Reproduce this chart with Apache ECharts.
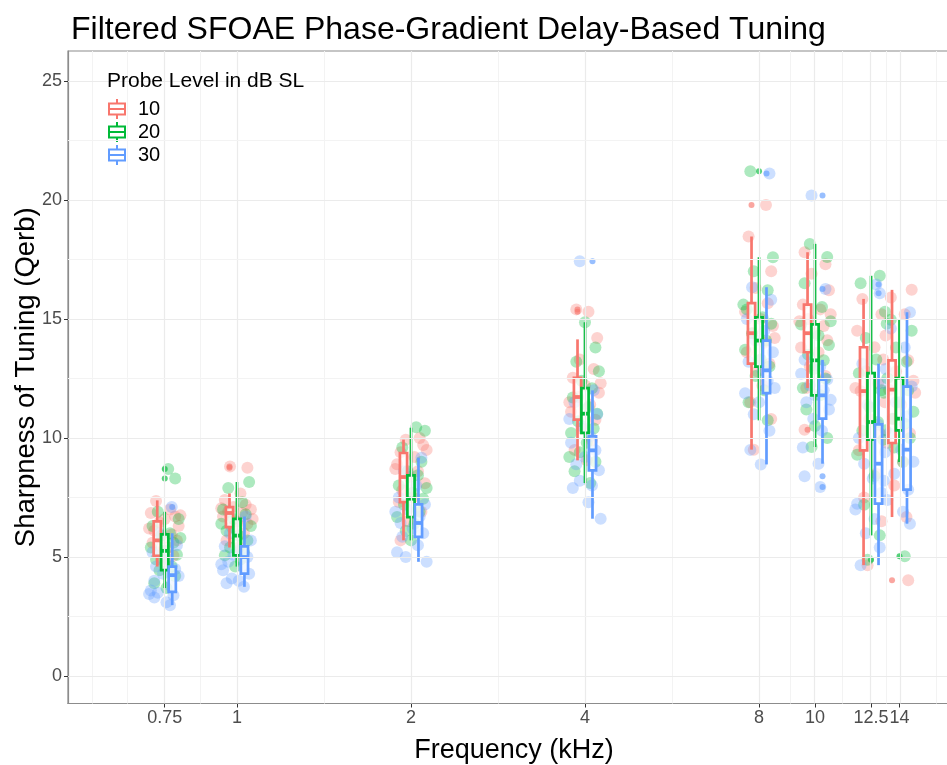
<!DOCTYPE html>
<html>
<head>
<meta charset="utf-8">
<script src="https://cdn.jsdelivr.net/npm/echarts@6/dist/echarts.min.js"></script>
<style>html,body{margin:0;padding:0;background:#fff}#c{width:947px;height:765px}</style>
</head>
<body>
<div id="c"></div>
<script>
// ---------------- data ----------------
const freqs = [0.75, 1, 2, 4, 8, 10, 12.5, 14];
const xTickLabels = ['0.75', '1', '2', '4', '8', '10', '12.5', '14'];
const xMinorFreqs = [0.561, 0.648, 0.866, 1.414, 2.83, 5.66, 9.05, 11.18, 13.27, 16.26];
const yTicks = [0, 5, 10, 15, 20, 25];
const yMinor = [2.5, 7.5, 12.5, 17.5, 22.5];
const levels = ['10', '20', '30'];

// box stats per frequency: [lower whisker, Q1, median, Q3, upper whisker]
const box10 = [[4.6,5.05,5.7,6.5,7.38],[5.4,6.26,6.85,7.1,7.67],[5.7,7.31,8.36,9.37,9.93],[9.06,10.77,11.72,12.53,14.14],
  [9.51,13.12,14.4,15.66,18.46],[12.1,13.6,14.4,15.6,17.8],[4.66,9.48,11.97,13.81,15.84],[6.68,9.79,12.03,13.26,16.22]];
const box20 = [[3.7,4.45,5.26,5.95,6.9],[4.6,5.07,5.9,6.6,8.15],[5.7,6.68,7.45,8.43,10.43],[8.11,10.21,11.02,12.09,14.86],
  [10.74,13.0,14.09,15.07,17.59],[9.62,11.79,13.26,14.77,18.15],[5.91,9.93,10.67,12.72,16.81],[8.99,10.32,10.81,12.51,14.96]];
const box30 = [[2.98,3.54,4.24,4.6,6.0],[3.75,4.3,5.0,5.45,6.7],[4.8,5.85,6.43,7.21,9.17],[6.61,8.64,9.48,10.07,12.0],
  [8.89,11.88,12.84,14.09,16.33],[8.92,10.81,11.79,12.45,13.28],[4.66,7.24,8.92,10.57,13.12],[6.4,7.83,9.51,12.16,15.28]];

// outliers: [frequency index, value]
const out10 = [[1,8.8],[1,8.75],[3,15.4],[3,15.3],[4,19.78],[5,10.35],[7,4.03]];
const out20 = [[0,8.7],[0,8.3],[4,21.2],[6,4.89],[7,5.03]];
const out30 = [[0,7.1],[3,17.42],[4,21.11],[5,20.18],[5,16.26],[5,8.39],[5,7.94],[6,16.44],[6,16.08]];

// individual (jittered) observations per frequency: [jitter in octaves, value]
const pts10 = [
  [[-0.05,7.35],[0.03,7.0],[-0.08,6.85],[0.06,6.7],[0.0,6.6],[-0.03,6.45],[0.08,6.3],[-0.06,6.1],[0.04,5.95],[-0.01,5.8],[0.07,5.7],[-0.07,5.6],[0.02,5.4],[-0.04,5.2],[0.05,5.05],[-0.02,4.9],[0.01,4.7],[-0.09,6.2],[0.09,6.75]],
  [[-0.04,8.8],[0.06,8.75],[0.02,7.67],[-0.07,7.4],[0.05,7.2],[-0.02,7.1],[0.08,7.0],[-0.05,6.9],[0.03,6.85],[-0.08,6.7],[0.0,6.5],[0.06,6.4],[-0.03,6.26],[0.04,6.0],[-0.06,5.7],[0.01,5.4],[-0.09,7.05],[0.09,6.6]],
  [[0.05,10.0],[-0.03,9.93],[0.07,9.7],[-0.06,9.4],[0.02,9.2],[-0.08,8.9],[0.04,8.6],[-0.01,8.36],[0.08,8.1],[-0.05,7.8],[0.01,7.5],[-0.07,7.31],[0.06,6.9],[-0.02,6.5],[-0.06,5.7],[0.09,9.5],[-0.09,8.7]],
  [[-0.05,15.4],[0.02,15.3],[0.07,14.2],[-0.03,13.3],[0.05,12.9],[-0.07,12.53],[0.0,12.2],[0.08,11.9],[-0.04,11.72],[0.03,11.4],[-0.08,11.1],[0.06,10.77],[-0.02,10.4],[0.04,9.9],[-0.06,9.5],[0.01,9.06],[0.09,12.3],[-0.09,11.5]],
  [[0.04,19.78],[-0.06,18.46],[0.07,17.0],[-0.02,16.3],[0.05,15.66],[-0.08,15.3],[0.01,15.0],[0.08,14.7],[-0.04,14.4],[0.03,14.0],[-0.07,13.6],[0.06,13.12],[-0.01,12.8],[0.02,12.2],[-0.05,11.5],[0.07,10.8],[-0.03,9.51],[0.09,14.2]],
  [[-0.06,17.8],[0.06,17.3],[-0.02,16.9],[0.08,16.2],[-0.07,15.6],[0.03,15.4],[-0.04,15.0],[0.05,14.7],[0.0,14.4],[0.07,14.1],[-0.08,13.8],[0.02,13.6],[-0.03,13.0],[0.06,12.6],[-0.05,12.1],[-0.06,10.35],[0.09,15.2],[-0.09,14.9]],
  [[-0.05,15.84],[0.06,15.2],[-0.08,14.5],[0.02,13.81],[0.07,13.3],[-0.03,12.8],[0.04,12.3],[-0.06,11.97],[0.08,11.5],[-0.01,10.8],[0.05,10.2],[-0.07,9.48],[0.03,8.5],[-0.04,7.5],[0.06,6.5],[-0.02,4.66],[-0.09,12.1]],
  [[0.07,16.22],[-0.05,15.9],[0.03,15.2],[-0.08,14.3],[0.05,13.26],[-0.02,12.8],[0.08,12.4],[-0.06,12.03],[0.01,11.4],[-0.04,10.8],[0.06,10.2],[-0.07,9.79],[0.02,9.0],[-0.03,8.0],[0.04,6.68],[0.05,4.03],[0.09,11.9]]
];
const pts20 = [
  [[0.02,8.7],[0.06,8.3],[-0.04,6.9],[0.08,6.6],[-0.07,6.3],[0.03,6.0],[-0.02,5.9],[0.05,5.6],[-0.08,5.4],[0.0,5.26],[0.07,5.1],[-0.05,4.9],[0.04,4.6],[-0.03,4.45],[0.06,4.2],[-0.06,3.9],[0.01,3.7],[0.09,5.8]],
  [[0.07,8.15],[-0.05,7.9],[0.03,7.3],[-0.08,7.0],[0.05,6.8],[-0.02,6.6],[0.08,6.3],[-0.06,6.1],[0.01,5.9],[0.06,5.7],[-0.04,5.4],[0.04,5.2],[-0.07,5.07],[0.02,4.9],[-0.01,4.6],[-0.09,6.4]],
  [[0.03,10.45],[0.08,10.3],[-0.05,9.6],[0.06,9.0],[-0.02,8.6],[0.04,8.43],[-0.07,8.0],[0.01,7.7],[0.07,7.45],[-0.04,7.2],[0.05,6.9],[-0.08,6.68],[0.02,6.4],[-0.03,6.1],[0.0,5.7],[0.09,7.9]],
  [[0.0,14.86],[0.06,13.8],[-0.05,13.2],[0.08,12.8],[-0.02,12.4],[0.04,12.09],[-0.07,11.7],[0.02,11.3],[0.07,11.02],[-0.04,10.7],[0.05,10.4],[-0.08,10.21],[0.01,9.8],[-0.03,9.4],[0.06,9.0],[-0.06,8.6],[0.03,8.11],[-0.09,9.2]],
  [[-0.05,21.2],[0.08,17.59],[-0.03,17.0],[0.05,16.2],[-0.07,15.4],[0.02,15.07],[0.07,14.8],[-0.04,14.4],[0.04,14.09],[-0.08,13.7],[0.01,13.3],[0.06,13.0],[-0.02,12.6],[0.03,12.0],[-0.06,11.5],[0.05,10.74],[-0.09,15.6]],
  [[-0.03,18.15],[0.07,17.6],[-0.06,16.5],[0.04,15.5],[-0.08,14.77],[0.02,14.3],[0.08,13.9],[-0.04,13.5],[0.05,13.26],[-0.01,12.9],[0.06,12.5],[-0.07,12.1],[0.03,11.79],[-0.05,11.2],[0.0,10.5],[0.07,10.0],[-0.02,9.62],[0.09,14.9]],
  [[0.05,16.81],[-0.06,16.5],[0.08,15.3],[-0.03,14.2],[0.03,13.3],[-0.07,12.72],[0.06,12.0],[-0.01,11.3],[0.04,10.67],[-0.05,10.3],[0.07,9.93],[-0.08,9.3],[0.02,8.4],[-0.04,7.2],[0.05,5.91],[-0.02,4.89],[0.09,14.8]],
  [[-0.05,14.96],[0.07,14.5],[-0.02,13.8],[0.04,13.2],[-0.07,12.51],[0.05,12.0],[0.0,11.5],[0.08,11.1],[-0.04,10.81],[0.03,10.6],[-0.08,10.32],[0.06,10.0],[-0.03,9.6],[0.02,8.99],[0.03,5.03],[-0.09,11.9]]
];
const pts30 = [
  [[0.04,7.1],[-0.03,6.0],[0.07,5.5],[-0.07,5.2],[0.02,4.9],[-0.05,4.6],[0.06,4.5],[-0.01,4.3],[0.08,4.2],[-0.06,4.0],[0.03,3.8],[-0.08,3.6],[-0.04,3.5],[0.05,3.4],[-0.06,3.3],[0.01,3.1],[0.03,2.98],[-0.09,3.45]],
  [[0.05,6.7],[-0.04,6.0],[0.08,5.7],[-0.07,5.45],[0.02,5.3],[-0.02,5.1],[0.06,5.0],[-0.05,4.8],[0.03,4.6],[-0.08,4.45],[0.07,4.3],[-0.03,4.1],[0.01,4.0],[-0.06,3.9],[0.04,3.75],[-0.09,4.7]],
  [[0.06,9.17],[-0.04,8.6],[0.03,8.0],[-0.07,7.5],[0.08,7.21],[-0.02,7.0],[0.05,6.7],[-0.06,6.43],[0.01,6.2],[0.07,6.0],[-0.05,5.85],[0.04,5.5],[-0.08,5.2],[-0.03,5.0],[0.09,4.8],[-0.09,6.9]],
  [[-0.03,17.42],[0.05,12.0],[-0.06,11.5],[0.07,11.0],[-0.02,10.5],[0.03,10.07],[-0.08,9.8],[0.06,9.48],[0.0,9.2],[-0.05,8.9],[0.08,8.64],[-0.03,8.2],[0.04,8.0],[-0.07,7.9],[0.02,7.3],[0.09,6.61],[-0.09,10.8]],
  [[0.06,21.11],[-0.04,16.33],[0.07,15.8],[-0.07,15.0],[0.03,14.5],[-0.02,14.09],[0.08,13.6],[-0.06,13.2],[0.02,12.84],[0.05,12.4],[-0.08,11.88],[0.0,11.5],[-0.03,11.0],[0.06,10.3],[-0.05,9.5],[0.01,8.89],[0.09,12.1]],
  [[-0.02,20.18],[0.06,16.26],[-0.06,13.28],[0.03,13.0],[-0.08,12.7],[0.07,12.45],[-0.03,12.2],[0.05,12.0],[0.0,11.79],[-0.05,11.5],[0.08,11.2],[-0.01,10.81],[0.04,10.3],[-0.07,9.6],[0.02,8.92],[-0.06,8.39],[0.03,7.94],[0.09,11.6]],
  [[0.03,16.44],[0.05,16.08],[-0.05,13.12],[0.07,12.3],[-0.02,11.4],[0.04,10.57],[-0.07,10.0],[0.08,9.4],[-0.04,8.92],[0.01,8.3],[0.06,7.7],[-0.08,7.24],[0.02,6.6],[-0.03,6.0],[0.05,5.4],[-0.06,4.66],[-0.09,7.0]],
  [[0.06,15.28],[-0.05,14.6],[0.03,13.8],[-0.08,12.9],[0.07,12.16],[-0.02,11.5],[0.04,10.9],[-0.06,10.2],[0.01,9.51],[0.08,9.0],[-0.03,8.5],[0.05,7.83],[-0.07,7.4],[0.02,6.9],[0.06,6.4],[-0.09,8.2]]
];

// ---------------- build ----------------
const colors = ['#F8766D', '#00BA38', '#619CFF'];
const dodge = [-0.043, 0, 0.043];
const boxes = [box10, box20, box30];
const outs = [out10, out20, out30];
const pts = [pts10, pts20, pts30];
const lx = f => Math.log2(f);
const FONT = '"Liberation Sans", Arial, Helvetica, sans-serif';

const legendIcon = 'path://M8,0h2v3.5h-2z M0,3.5h18v2h-18z M0,14.5h18v2h-18z M0,5.5h2v9h-2z M16,5.5h2v9h-2z M0,9h18v2h-18z M8,16.5h2v3.5h-2z';

function renderBox(color) {
  return function (params, api) {
    const x = api.value(0);
    const lo = api.coord([x, api.value(1)]);
    const q1 = api.coord([x, api.value(2)]);
    const md = api.coord([x, api.value(3)]);
    const q3 = api.coord([x, api.value(4)]);
    const hi = api.coord([x, api.value(5)]);
    const cx = lo[0], hw = 3.6, lw = 2.7;
    return {
      type: 'group',
      children: [
        {type: 'line', shape: {x1: cx, y1: hi[1], x2: cx, y2: q3[1]}, style: {stroke: color, lineWidth: lw}},
        {type: 'line', shape: {x1: cx, y1: q1[1], x2: cx, y2: lo[1]}, style: {stroke: color, lineWidth: lw}},
        {type: 'rect', shape: {x: cx - hw, y: q3[1], width: 2 * hw, height: q1[1] - q3[1]},
          style: {fill: 'rgba(255,255,255,0.75)', stroke: color, lineWidth: lw}},
        {type: 'line', shape: {x1: cx - hw, y1: md[1], x2: cx + hw, y2: md[1]}, style: {stroke: color, lineWidth: 3.8}}
      ]
    };
  };
}

const series = [];
// gridlines
const gridLineData = [];
freqs.forEach(f => gridLineData.push({xAxis: lx(f), lineStyle: {color: '#EBEBEB', width: 1.2, type: 'solid'}}));
xMinorFreqs.forEach(f => gridLineData.push({xAxis: lx(f), lineStyle: {color: '#F3F3F3', width: 1, type: 'solid'}}));
yTicks.forEach(v => gridLineData.push({yAxis: v, lineStyle: {color: '#EBEBEB', width: 1.2, type: 'solid'}}));
yMinor.forEach(v => gridLineData.push({yAxis: v, lineStyle: {color: '#F3F3F3', width: 1, type: 'solid'}}));
series.push({
  type: 'line', name: 'grid', data: [], z: 0, silent: true,
  markLine: {silent: true, symbol: ['none', 'none'], label: {show: false}, animation: false, data: gridLineData}
});

levels.forEach((lev, k) => {
  series.push({
    type: 'custom', name: lev, color: colors[k], z: 3,
    renderItem: renderBox(colors[k]),
    encode: {x: 0, y: [1, 2, 3, 4, 5]},
    data: boxes[k].map((b, i) => [lx(freqs[i]) + dodge[k]].concat(b))
  });
});
levels.forEach((lev, k) => {
  const d = [];
  pts[k].forEach((arr, i) => arr.forEach(p => d.push([lx(freqs[i]) + p[0], p[1]])));
  series.push({
    type: 'scatter', name: lev, z: 2, symbolSize: 12, silent: true,
    itemStyle: {color: colors[k], opacity: 0.32},
    data: d
  });
  series.push({
    type: 'scatter', name: lev, z: 4, symbolSize: 6, silent: true,
    itemStyle: {color: colors[k], opacity: 0.65},
    data: outs[k].map(o => [lx(freqs[o[0]]) + dodge[k], o[1]])
  });
});

const xTickVals = freqs.map(lx);

const option = {
  animation: false,
  backgroundColor: '#fff',
  textStyle: {fontFamily: FONT},
  title: [
    {text: 'Filtered SFOAE Phase-Gradient Delay-Based Tuning', left: 66, top: 9,
      textStyle: {fontFamily: FONT, fontSize: 32, fontWeight: 'normal', color: '#000'}},
    {text: 'Probe Level in dB SL', left: 102, top: 66,
      textStyle: {fontFamily: FONT, fontSize: 21, fontWeight: 'normal', color: '#000'}}
  ],
  legend: {
    orient: 'vertical', left: 103, top: 94, itemWidth: 18, itemHeight: 20, itemGap: 3,
    textStyle: {fontFamily: FONT, fontSize: 20, color: '#000', padding: [0, 0, 0, 7]},
    data: levels.map(l => ({name: l, icon: legendIcon})),
    selectedMode: false
  },
  grid: {left: 68, top: 51, right: -13, bottom: 61.5, show: true, borderColor: '#8c8c8c', borderWidth: 1.2,
    backgroundColor: 'transparent', containLabel: false, outerBoundsMode: 'none'},
  xAxis: {
    type: 'value', min: -0.971, max: 4.155,
    name: 'Frequency (kHz)', nameLocation: 'middle', nameGap: 34, nameMoveOverlap: false,
    nameTextStyle: {fontFamily: FONT, fontSize: 27, color: '#000'},
    axisLine: {show: true, onZero: false, lineStyle: {color: '#8c8c8c', width: 1.2}},
    axisTick: {show: true, length: 4, customValues: xTickVals, lineStyle: {color: '#333', width: 1}},
    axisLabel: {
      customValues: xTickVals, margin: 6, fontSize: 18, color: '#4D4D4D', fontFamily: FONT,
      formatter: function (v) {
        let best = 0;
        xTickVals.forEach((t, i) => { if (Math.abs(t - v) < Math.abs(xTickVals[best] - v)) best = i; });
        return xTickLabels[best];
      }
    },
    splitLine: {show: false}
  },
  yAxis: {
    type: 'value', min: -1.15, max: 26.25,
    name: 'Sharpness of Tuning (Qerb)', nameLocation: 'middle', nameGap: 28, nameMoveOverlap: false,
    nameTextStyle: {fontFamily: FONT, fontSize: 27.5, color: '#000'},
    axisLine: {show: true, onZero: false, lineStyle: {color: '#8c8c8c', width: 1.2}},
    axisTick: {show: true, length: 4, customValues: yTicks, lineStyle: {color: '#333', width: 1}},
    axisLabel: {customValues: yTicks, margin: 6, fontSize: 18, color: '#4D4D4D', fontFamily: FONT},
    splitLine: {show: false}
  },
  series: series
};

const chart = echarts.init(document.getElementById('c'), null, {renderer: 'canvas'});
chart.setOption(option);
</script>
</body>
</html>
